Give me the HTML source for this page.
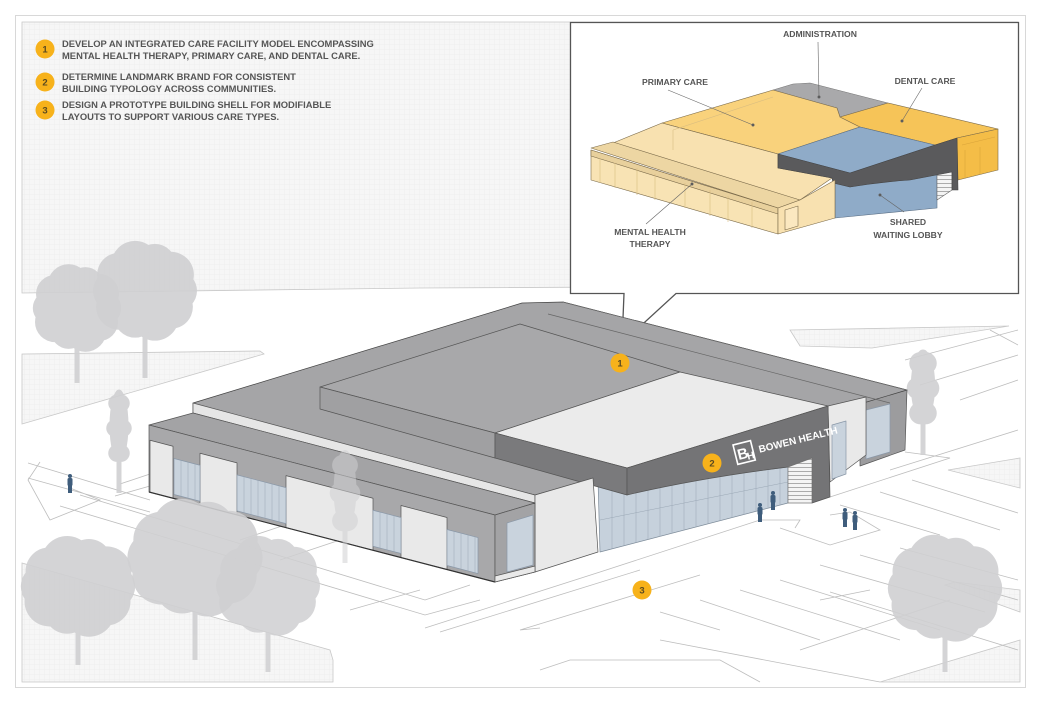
<!DOCTYPE html>
<html><head><meta charset="utf-8"><style>
html,body{margin:0;padding:0;background:#fff;}
svg{display:block;}
text{font-family:"Liberation Sans",Arial,sans-serif;font-weight:bold;}
</style></head><body>
<svg id="s" width="1040" height="701" viewBox="0 0 1040 701" xmlns="http://www.w3.org/2000/svg">
<defs>
<pattern id="g" width="5" height="5" patternUnits="userSpaceOnUse">
<rect width="5" height="5" fill="#f6f6f6"/><path d="M5 0V5M0 5H5" stroke="#e9e9e9" stroke-width="0.6"/>
</pattern>
<pattern id="st" width="4" height="4" patternUnits="userSpaceOnUse">
<rect width="4" height="4" fill="#f4f4f4"/><path d="M0 3.5H4" stroke="#999" stroke-width="0.8"/>
</pattern>
</defs>
<rect width="1040" height="701" fill="#fff"/>
<rect x="15.5" y="15.5" width="1010" height="672" fill="none" stroke="#d8d8d8"/>
<g stroke="#c8c8c8" stroke-width="0.8" fill="url(#g)">
<polygon points="22,22 1018,22 1018,285 420,288 22,293"/>
<polygon points="22,354 260,351 264,354 22,424"/>
<polygon points="22,563 330,650 333,660 333,682 22,682"/>
<polygon points="790,330 1009,326 872,348 800,346"/>
<polygon points="880,682 1020,640 1020,682"/>
<polygon points="1020,458 1020,488 948,470"/>
<polygon points="1020,590 1020,612 945,585 955,582"/>
</g>
<g stroke="#bdbdbd" stroke-width="0.8" fill="none">
<path d="M28,463 L150,500 M28,478 L150,512 M40,462 L28,480 L50,520 L100,500 L70,488"/>
<path d="M80,495 L425,600 L470,585 M60,506 L425,615 L480,600"/>
<path d="M120,484 L150,474 M115,496 L150,486"/>
<path d="M425,628 L600,572 M540,628 L520,630 L700,575 M440,632 L640,570"/>
<path d="M600,572 L760,520 L800,520 L795,528 M780,528 L830,545 L880,530 L850,512 L830,515"/>
<path d="M830,497 L950,458 L905,452 M890,470 L1018,430"/>
<path d="M540,670 L570,660 L720,660 L760,682"/>
<path d="M660,612 L720,630 M700,600 L820,640 M740,590 L900,640 M780,580 L940,630 M660,640 L880,682"/>
<path d="M820,565 L985,612 M860,555 L1018,600 M900,548 L1018,580"/>
<path d="M912,480 L1018,513 M880,492 L1000,530 M840,505 L940,535"/>
<path d="M830,592 L1018,650 M820,600 L870,590 M800,650 L950,600"/>
<path d="M905,360 L1018,330 M920,385 L1018,355 M960,400 L1018,380 M990,330 L1018,345"/>
<path d="M240,540 L300,520 M280,560 L340,540 M350,610 L420,590"/>
</g>
<g id="treesBack"></g>
<polygon points="570.5,22.5 1018.5,22.5 1018.5,293.5 676,293.5 622,343 624,293.5 570.5,293.5" fill="#fff" stroke="#555" stroke-width="1.3"/>
<g stroke="#7a6a4a" stroke-width="0.6" stroke-linejoin="round">
<polygon points="773,90 793,84 810,83 888,103 840,117 837,108" fill="#a9a9ab" stroke="#777"/>
<polygon points="662,123 773,90 837,108 840,117 860,127 778,154" fill="#f9d27c"/>
<polygon points="840,117 888,103 998,129 957,138 935,145 860,127" fill="#f6c458"/>
<polygon points="957,138 998,129 998,170 958,180" fill="#f4bd47"/>
<path d="M962,145 L995,137 M965,150 V178 M980,147 V174" stroke="#d9a43a" fill="none"/>
<polygon points="613,143 662,123 778,154 778,168 832,178 800,200 613,150" fill="#f8e1b0"/>
<path d="M673,130 L773,97 M673,130 V150" stroke="#d9bd80" fill="none"/>
<polygon points="778,154 860,127 935,145 850,173" fill="#8fabc8" stroke="#5b6f85"/>
<path d="M835,183 L850,187 Q895,176 937,172 L937,208 L835,218 Z" fill="#8fabc8" stroke="#5b6f85"/>
<polygon points="937,170 952,168 952,190 937,200" fill="url(#st)" stroke="#666"/>
<path d="M778,154 L850,173 L935,145 L957,138 L958,190 L952,190 L952,172 L910,180 Q880,182 850,187 L833,183 L832,178 L778,168 Z" fill="#5a5a5c" stroke="#444"/>
<polygon points="591,148 613,142 800,200 778,208" fill="#edd6a3"/>
<polygon points="591,150 778,208 778,234 591,180" fill="#f8e3b4"/>
<polygon points="591,150 778,208 778,214 591,156" fill="#e8d09c"/>
<path d="M600,158 V183 M615,163 V188 M637,168 V195 M655,174 V200 M685,183 V208 M710,190 V216 M728,196 V222 M752,202 V228" stroke="#d9bd80" fill="none"/>
<polygon points="778,208 800,200 835,180 835,218 778,234" fill="#f8e1b0"/>
<polygon points="785,210 798,206 798,226 785,230" fill="#fbe8c0"/>
</g>
<g font-size="8.6" fill="#555" text-anchor="middle">
<text x="820" y="37">ADMINISTRATION</text>
<text x="675" y="85">PRIMARY CARE</text>
<text x="925" y="84">DENTAL CARE</text>
<text x="650" y="235">MENTAL HEALTH</text>
<text x="650" y="247">THERAPY</text>
<text x="908" y="225">SHARED</text>
<text x="908" y="238">WAITING LOBBY</text>
</g>
<g stroke="#666" stroke-width="0.6" fill="#555">
<line x1="818" y1="42" x2="819" y2="97"/><circle cx="819" cy="97" r="1.2"/>
<line x1="668" y1="90" x2="753" y2="125"/><circle cx="753" cy="125" r="1.2"/>
<line x1="922" y1="88" x2="902" y2="121"/><circle cx="902" cy="121" r="1.2"/>
<line x1="646" y1="224" x2="692" y2="184"/><circle cx="692" cy="184" r="1.2"/>
<line x1="904" y1="212" x2="880" y2="195"/><circle cx="880" cy="195" r="1.2"/>
</g>
<g font-size="9.4" fill="#555">
<text x="62" y="47">DEVELOP AN INTEGRATED CARE FACILITY MODEL ENCOMPASSING</text>
<text x="62" y="59">MENTAL HEALTH THERAPY, PRIMARY CARE, AND DENTAL CARE.</text>
<text x="62" y="80">DETERMINE LANDMARK BRAND FOR CONSISTENT</text>
<text x="62" y="92">BUILDING TYPOLOGY ACROSS COMMUNITIES.</text>
<text x="62" y="108">DESIGN A PROTOTYPE BUILDING SHELL FOR MODIFIABLE</text>
<text x="62" y="120">LAYOUTS TO SUPPORT VARIOUS CARE TYPES.</text>
</g>
<g stroke="#555" stroke-width="0.7" stroke-linejoin="round">
<polygon points="860,402 907,390 905,450 860,466" fill="#9c9c9e"/>
<polygon points="866,410 890,404 890,452 866,459" fill="#c9d3dd" stroke="#8a98a8"/>
<polygon points="193,403 522,303 563,302 907,390 860,404 535,495 193,413" fill="#a5a5a7" stroke="#444"/>
<path d="M563,302 L907,390 M548,314 L890,403" stroke="#666" fill="none"/>
<polygon points="193,403 535,495 535,503 193,413" fill="#e6e6e6"/>
<polygon points="320,387 520,324 680,372 495,433" fill="#a8a8aa"/>
<polygon points="320,387 495,433 495,458 320,409" fill="#a0a0a2"/>
<polygon points="828,406 866,397 866,455 830,482" fill="#e9e9e9"/>
<polygon points="832,425 846,421 846,474 832,479" fill="#c9d3dd" stroke="#8a98a8"/>
<polygon points="495,433 680,372 828,406 627,468" fill="#ebebeb"/>
<path d="M598,480 L627,490 Q700,478 788,467 L788,503 L600,552 Z" fill="#c6d1dc" stroke="#7d8b99"/>
<g id="glz" stroke="#9aa7b5" stroke-width="0.5"></g>
<polygon points="495,433 627,468 627,495 495,458" fill="#7a7a7c"/>
<path d="M627,468 L828,406 L830,497 L812,503 L812,458 L788,467 Q700,478 627,495 Z" fill="#747476"/>
<polygon points="788,467 812,458 812,503 788,503" fill="url(#st)" stroke="#777"/>
<polygon points="535,495 593,478 598,552 535,572" fill="#e9e9e9"/>
<polygon points="149,425 193,413 535,503 495,515" fill="#a3a3a5"/>
<polygon points="149,425 495,515 495,582 149,492" fill="#a8a8aa"/>
<g id="wing"></g>
<polygon points="495,515 535,503 535,572 495,582" fill="#a3a3a5"/>
<polygon points="507,523 533,515 533,565 507,572" fill="#c9d3dd" stroke="#8a98a8"/>
<polygon points="495,576 535,566 535,572 495,582" fill="#e9e9e9"/>
</g>
<g transform="translate(733,445) rotate(-14)">
<rect x="0" y="0" width="18" height="20" fill="none" stroke="#fff" stroke-width="1.6"/>
<text x="2" y="16" font-size="15" fill="#fff">B</text>
<text x="11" y="18" font-size="10" fill="#fff">H</text>
<text x="24" y="14" font-size="10" fill="#fff">BOWEN HEALTH</text>
</g>
<g id="treesFront"></g>
<g id="people" fill="#3f5d7c"></g>
<g id="badges"></g>
</svg>
<script>
var NS="http://www.w3.org/2000/svg";
function el(p,t,a){var e=document.createElementNS(NS,t);for(var k in a)e.setAttribute(k,a[k]);p.appendChild(e);return e;}
var B=document.getElementById('badges');
[[45,49,'1'],[45,82,'2'],[45,110,'3'],[620,363,'1'],[712,463,'2'],[642,590,'3']].forEach(function(b){
 el(B,'circle',{cx:b[0],cy:b[1],r:9.5,fill:'#f7b21b'});
 var t=el(B,'text',{x:b[0],y:b[1]+3.5,'font-size':9.5,fill:'#5a4a20','text-anchor':'middle'});t.textContent=b[2];
});
var W=document.getElementById('wing');
function yt(x){return 425+0.26*(x-149);} function yb(x){return 492+0.26*(x-149);}
[[150,173],[200,237],[286,373],[401,447]].forEach(function(p){
 el(W,'polygon',{points:p[0]+','+(yt(p[0])+15)+' '+p[1]+','+(yt(p[1])+15)+' '+p[1]+','+yb(p[1])+' '+p[0]+','+yb(p[0]),fill:'#e9e9e9'});
});
[[174,200],[237,286],[373,401],[447,478]].forEach(function(p){
 el(W,'polygon',{points:p[0]+','+(yt(p[0])+27)+' '+p[1]+','+(yt(p[1])+27)+' '+p[1]+','+(yb(p[1])-4)+' '+p[0]+','+(yb(p[0])-4),fill:'#c9d3dd',stroke:'#8a98a8'});
 for(var x=p[0]+7;x<p[1];x+=7)el(W,'line',{x1:x,y1:yt(x)+27,x2:x,y2:yb(x)-4,stroke:'#9aa7b5','stroke-width':0.5});
});
el(W,'line',{x1:149,y1:492,x2:495,y2:582,stroke:'#333','stroke-width':1.2});
var G=document.getElementById('glz');
for(var x=612;x<788;x+=12){el(G,'line',{x1:x,y1:490-(x-600)*0.12,x2:x,y2:552-(x-600)*0.26});}
el(G,'line',{x1:600,y1:520,x2:788,y2:482});
function tree(g,cx,top,w,h,bot,op,narrow){
 var grp=el(g,'g',{fill:'#d0d0d2',opacity:op});
 el(grp,'rect',{x:cx-2.5,y:top+h*0.5,width:5,height:bot-top-h*0.5});
 var n=narrow?6:10;
 for(var i=0;i<n;i++){
  var a=i/n*Math.PI*2, rx=w*0.32, ry=h*0.32;
  var r=narrow?w*0.35:w*0.2+((i*7)%5);
  el(grp,'circle',{cx:cx+Math.cos(a)*rx*(narrow?0.5:1),cy:top+h*0.48+Math.sin(a)*ry,r:r});
 }
 el(grp,'ellipse',{cx:cx,cy:top+h*0.45,rx:w*0.38,ry:h*0.4});
 if(!narrow){el(grp,'path',{d:'M'+cx+','+(top+h*0.8)+' L'+(cx-w*0.3)+','+(top+h*0.6)+' M'+cx+','+(top+h*0.8)+' L'+(cx+w*0.3)+','+(top+h*0.6),stroke:'#d0d0d2','stroke-width':3});}
}
var TB=document.getElementById('treesBack'),TF=document.getElementById('treesFront');
tree(TB,77,272,85,75,383,0.9);
tree(TB,145,250,100,85,378,0.9);
tree(TB,119,385,25,90,493,0.9,true);
tree(TB,923,345,32,90,455,0.9,true);
tree(TF,345,445,30,100,563,0.55,true);
tree(TF,78,548,110,80,665,0.9);
tree(TF,195,512,130,95,660,0.9);
tree(TF,268,545,100,85,672,0.85);
tree(TF,945,545,110,90,672,0.9);
var P=document.getElementById('people');
[[70,483],[760,512],[773,500],[845,517],[855,520]].forEach(function(p){
 el(P,'circle',{cx:p[0],cy:p[1]-7,r:2});
 el(P,'rect',{x:p[0]-2.5,y:p[1]-5,width:5,height:8,rx:1.5});
 el(P,'rect',{x:p[0]-2,y:p[1]+2,width:4,height:8});
});
</script>
</body></html>
